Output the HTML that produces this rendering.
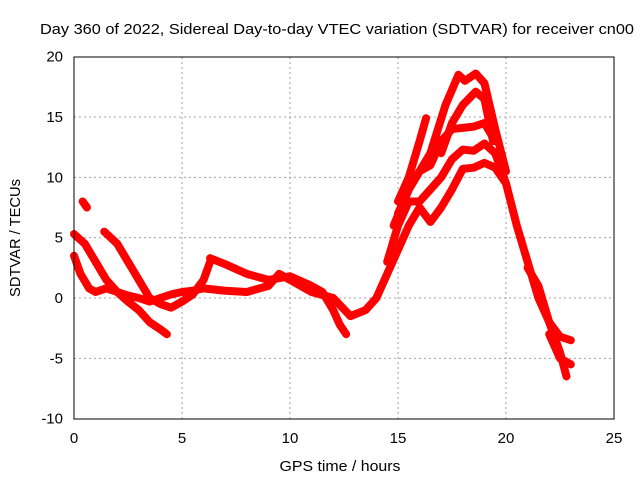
<!DOCTYPE html>
<html><head><meta charset="utf-8"><style>
body{margin:0;background:#fff}
svg{display:block;font-family:"Liberation Sans",sans-serif}
</style></head><body>
<svg width="640" height="480" viewBox="0 0 640 480">
<text x="337" y="34" font-size="15" text-anchor="middle" textLength="594" lengthAdjust="spacingAndGlyphs">Day 360 of 2022, Sidereal Day-to-day VTEC variation (SDTVAR) for receiver cn00</text>
<g id="grid"></g>
<g id="series"></g>
<rect x="74" y="57" width="540" height="362" fill="none" stroke="#000" stroke-width="1"/>
<g id="ticks"></g>
<text x="340" y="471" font-size="15" text-anchor="middle" textLength="121" lengthAdjust="spacingAndGlyphs">GPS time / hours</text>
<text x="20" y="238" font-size="15" text-anchor="middle" transform="rotate(-90 20 238)" textLength="118" lengthAdjust="spacingAndGlyphs">SDTVAR / TECUs</text>
</svg>
<script>
const xTicks=[0,5,10,15,20,25];
const yTicks=[-10,-5,0,5,10,15,20];
const track1=[[0,5.3],[0.5,4.5],[1,3],[1.5,1.5],[2,0.5],[2.5,-0.3],[3,-1],[3.5,-2],[4,-2.6],[4.3,-3]];
const track2=[[0.4,8],[0.6,7.5]];
const track3=[[1.4,5.5],[2,4.5],[2.5,3],[3,1.5],[3.5,0],[4,-0.5],[4.5,-0.8],[5,-0.3],[5.5,0.3],[6,1.5],[6.3,3]];
const track4=[[0,3.5],[0.3,2],[0.7,0.8],[1,0.5],[1.5,0.8],[2,0.5],[2.5,0.2],[3,0],[3.5,-0.3],[4,0],[4.5,0.3],[5,0.5],[5.5,0.6],[6,0.8]];
const track5=[[6.3,3.3],[7,2.8],[8,2],[9,1.5],[10,1.8],[11,1],[11.5,0.5],[12,-1],[12.3,-2.2],[12.6,-3]];
const track6=[[6,0.8],[7,0.6],[8,0.5],[9,1],[9.5,2],[10,1.5],[11,0.5],[12,0],[12.8,-1.5],[13.5,-1],[14,0],[14.5,2],[15,4],[15.5,6],[16,7.5],[16.5,6.3],[17,7.5],[17.5,9],[18,10.7],[18.5,10.8],[19,11.2],[19.5,10.8],[20,9.5]];
const track7=[[14.5,3],[15,6],[15.5,8],[16,8],[16.5,9],[17,10],[17.5,11.5],[18,12.3],[18.5,12.2],[19,12.8],[19.5,12]];
const track8=[[15,7],[15.5,9],[16,10.5],[16.5,11],[17,13],[17.5,14],[18,14.1],[18.5,14.2],[19,14.5],[19.5,13]];
const track9=[[15,8],[15.5,10],[16,13],[16.3,14.9]];
const track10=[[14.8,6],[15.5,9],[16.5,12],[17.2,16],[17.8,18.5],[18.1,18],[18.6,18.6],[19,17.8],[19.5,14],[20,10.5]];
const track11=[[17,12],[17.5,14.5],[18,16],[18.6,17.1],[19,16.5],[19.4,13]];
const track12=[[19.5,12],[20,9.5],[20.5,6],[21,3],[21.5,0],[22,-2],[22.5,-4.5],[22.8,-6.5]];
const track13=[[21,2.5],[21.5,1],[22,-2],[22.5,-3.2],[23,-3.5]];
const track14=[[22,-3],[22.5,-5],[23,-5.5]];
const tracks=[track1,track2,track3,track4,track5,track6,track7,track8,track9,track10,track11,track12,track13,track14];
const NS='http://www.w3.org/2000/svg';
const X=v=>74+v*21.6, Y=v=>298-v*12.067;
const grid=document.getElementById('grid'),ticks=document.getElementById('ticks'),ser=document.getElementById('series');
function mk(tag,attrs,parent){const e=document.createElementNS(NS,tag);for(const k in attrs)e.setAttribute(k,attrs[k]);parent.appendChild(e);return e;}
xTicks.forEach(t=>{
  if(t>0&&t<25){const g=mk('line',{x1:X(t),x2:X(t),y1:57,y2:419,stroke:'#a0a0a0','stroke-dasharray':'2,3'},grid);
  
  }
  const l=mk('text',{x:X(t),y:443,'font-size':15,'text-anchor':'middle'},ticks);
  
  
  l.textContent=t;
});
yTicks.forEach(t=>{
  if(t>-10&&t<20){const g=mk('line',{x1:74,x2:614,y1:Y(t),y2:Y(t),stroke:'#a0a0a0','stroke-dasharray':'2,3'},grid);
  
  }
  const l=mk('text',{x:63,y:Y(t)+5,'font-size':15,'text-anchor':'end'},ticks);
  
  
  l.textContent=t;
});
tracks.forEach(tr=>{
  const p=mk('polyline',{points:tr.map(d=>X(d[0])+','+Y(d[1])).join(' '),fill:'none',stroke:'#ff0000','stroke-width':8,'stroke-linejoin':'round','stroke-linecap':'round'},ser);
  
  
});
</script>
</body></html>
